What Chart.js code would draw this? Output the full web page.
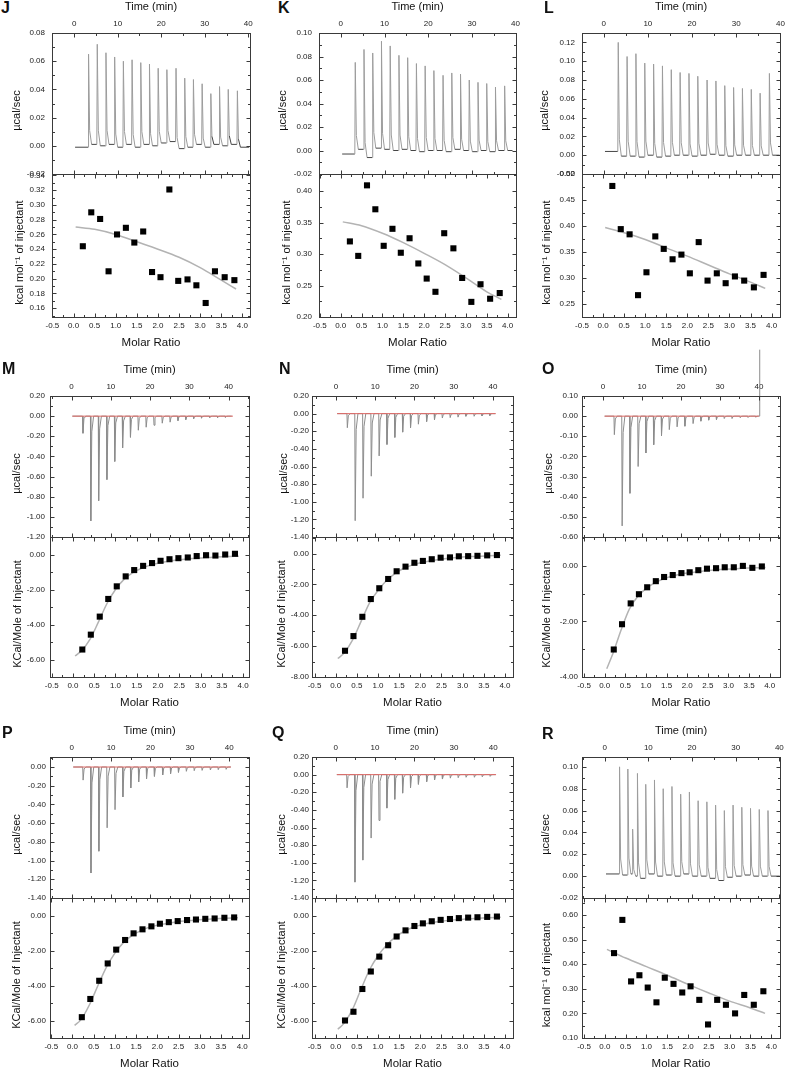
<!DOCTYPE html>
<html>
<head>
<meta charset="utf-8">
<script src="https://cdn.jsdelivr.net/npm/chart.js@4.4.1/dist/chart.umd.min.js"></script>
<style>
  html, body { margin: 0; padding: 0; background: #fff; }
  body { width: 786px; height: 1071px; position: relative; overflow: hidden; }
  canvas { position: absolute; }
  .tag { position: absolute; font: bold 16px/16px "Liberation Sans", Arial, sans-serif; color: #111; }
</style>
</head>
<body>
<script>
// ---------- values ----------
const timeTicks = [0, 10, 20, 30, 40];
const ratioTicks = [-0.5, 0, 0.5, 1, 1.5, 2, 2.5, 3, 3.5, 4];

// injection times (min)
const injA = [3.2, 5.2, 7.2, 9.2, 11.2, 13.2, 15.2, 17.2, 19.2, 21.2, 23.3, 25.3, 27.3, 29.3, 31.3, 33.3, 35.3, 37.4];
const injB = [2.8, 4.8, 6.8, 8.9, 10.9, 12.9, 14.9, 16.9, 18.9, 20.9, 23.0, 25.0, 27.0, 29.0, 31.0, 33.0, 35.1, 37.1, 39.1];
const injR = [3.3, 5.2, 6.3, 7.4, 9.3, 11.3, 13.3, 15.3, 17.3, 19.3, 21.3, 23.3, 25.3, 27.3, 29.3, 31.3, 33.3, 35.3, 37.3];

// molar ratio of the integrated points, and x of the fitted curves
const ratio = [0.22, 0.42, 0.63, 0.83, 1.03, 1.24, 1.44, 1.65, 1.86, 2.06, 2.27, 2.48, 2.70, 2.91, 3.13, 3.35, 3.58, 3.81];
const fitA = [0.05, 0.5, 1.0, 1.5, 2.0, 2.5, 3.0, 3.5, 3.85];
const fitB = [0.05, 0.2, 0.4, 0.6, 0.8, 1.0, 1.2, 1.4, 1.6, 1.8, 2.0, 2.4, 2.8, 3.2, 3.6, 3.9];

// J
const jPeak = [0.066, 0.071, 0.066, 0.062, 0.061, 0.060, 0.060, 0.057, 0.055, 0.052, 0.052, 0.050, 0.048, 0.043, 0.038, 0.041, 0.040, 0.038];
const jBase = [-0.001, 0.001, 0.000, 0.001, -0.001, 0.001, -0.001, 0.001, 0.000, 0.002, 0.003, -0.002, -0.001, 0.001, -0.001, 0.001, 0.000, 0.001, -0.001];
const jHeat = [0.244, 0.290, 0.281, 0.210, 0.260, 0.269, 0.249, 0.264, 0.209, 0.202, 0.321, 0.197, 0.199, 0.191, 0.167, 0.210, 0.202, 0.198];
const jFit = [0.270, 0.267, 0.260, 0.250, 0.240, 0.229, 0.215, 0.198, 0.186];
const jTopTicks = [-0.02, 0, 0.02, 0.04, 0.06, 0.08];
const jBotTicks = [0.16, 0.18, 0.20, 0.22, 0.24, 0.26, 0.28, 0.30, 0.32, 0.34];

// K
const kPeak = [0.078, 0.085, 0.089, 0.091, 0.088, 0.081, 0.078, 0.074, 0.073, 0.068, 0.064, 0.067, 0.064, 0.060, 0.059, 0.057, 0.055, 0.055];
const kBase = [-0.003, 0.001, -0.006, 0.002, 0.001, 0.000, 0.001, 0.000, -0.001, 0.000, 0.000, -0.001, 0.001, 0.000, -0.001, 0.000, -0.001, 0.000, 0.000];
const kHeat = [0.320, 0.297, 0.409, 0.371, 0.313, 0.340, 0.302, 0.325, 0.285, 0.261, 0.240, 0.333, 0.309, 0.262, 0.224, 0.252, 0.229, 0.238];
const kFit = [0.351, 0.345, 0.333, 0.318, 0.301, 0.283, 0.262, 0.240, 0.228];
const kTopTicks = [-0.02, 0, 0.02, 0.04, 0.06, 0.08, 0.10];
const kBotTicks = [0.20, 0.25, 0.30, 0.35, 0.40];

// L
const lPeak = [0.116, 0.106, 0.109, 0.100, 0.097, 0.097, 0.092, 0.088, 0.087, 0.085, 0.080, 0.078, 0.074, 0.073, 0.071, 0.070, 0.066, 0.087];
const lBase = [0.004, -0.001, -0.001, -0.002, 0.000, -0.002, -0.001, 0.000, 0.000, -0.001, 0.000, 0.001, 0.000, -0.001, 0.000, 0.000, 0.000, 0.000, 0.000];
const lHeat = [0.477, 0.394, 0.384, 0.267, 0.311, 0.380, 0.356, 0.336, 0.345, 0.309, 0.369, 0.295, 0.309, 0.290, 0.303, 0.295, 0.282, 0.306];
const lFit = [0.397, 0.387, 0.374, 0.358, 0.342, 0.325, 0.308, 0.292, 0.280];
const lTopTicks = [-0.02, 0, 0.02, 0.04, 0.06, 0.08, 0.10, 0.12];
const lBotTicks = [0.25, 0.30, 0.35, 0.40, 0.45, 0.50];

// M
const mPeak = [-0.17, -1.04, -0.84, -0.63, -0.45, -0.315, -0.21, -0.14, -0.11, -0.09, -0.07, -0.06, -0.045, -0.035, -0.025, -0.02, -0.015, -0.015, -0.012];
const mRed = [0.2, 41.1];
const mHeat = [-5.43, -4.58, -3.55, -2.54, -1.82, -1.25, -0.89, -0.65, -0.49, -0.36, -0.27, -0.21, -0.17, -0.09, -0.04, -0.06, 0.00, 0.04];
const mFit = [-5.8, -5.5, -4.85, -3.85, -2.8, -2.0, -1.42, -1.05, -0.8, -0.62, -0.5, -0.33, -0.23, -0.17, -0.12, -0.1];
const mTopTicks = [-1.2, -1.0, -0.8, -0.6, -0.4, -0.2, 0, 0.2];
const mBotTicks = [-6, -4, -2, 0];

// N
const nPeak = [-0.16, -1.215, -0.96, -0.71, -0.48, -0.35, -0.27, -0.21, -0.16, -0.12, -0.09, -0.07, -0.05, -0.045, -0.04, -0.03, -0.03, -0.027, -0.023];
const nRed = [0.3, 40.7];
const nHeat = [-6.3, -5.35, -4.1, -2.95, -2.25, -1.65, -1.15, -0.85, -0.6, -0.48, -0.37, -0.27, -0.25, -0.18, -0.17, -0.15, -0.12, -0.1];
const nFit = [-6.8, -6.45, -5.6, -4.4, -3.2, -2.4, -1.75, -1.3, -0.97, -0.75, -0.6, -0.4, -0.28, -0.2, -0.15, -0.12];
const nTopTicks = [-1.4, -1.2, -1.0, -0.8, -0.6, -0.4, -0.2, 0, 0.2];
const nBotTicks = [-8, -6, -4, -2, 0];

// O
const oPeak = [-0.092, -0.545, -0.383, -0.25, -0.183, -0.142, -0.097, -0.067, -0.053, -0.05, -0.037, -0.025, -0.02, -0.017, -0.012, -0.012, -0.008, -0.007, -0.005];
const oRed = [0.4, 40.0];
const oSpikeT = [40.2, 40.2];
const oSpikeV = [0, 0.33];
const oHeat = [-3.01, -2.10, -1.35, -1.02, -0.77, -0.55, -0.40, -0.33, -0.26, -0.23, -0.155, -0.10, -0.083, -0.05, -0.05, 0.00, -0.07, -0.02];
const oFit = [-3.7, -3.15, -2.3, -1.55, -1.1, -0.82, -0.62, -0.48, -0.38, -0.31, -0.26, -0.18, -0.13, -0.1, -0.07, -0.06];
const oTopTicks = [-0.6, -0.5, -0.4, -0.3, -0.2, -0.1, 0, 0.1];
const oBotTicks = [-4, -2, 0];

// P
const pPeak = [-0.14, -1.133, -0.90, -0.65, -0.456, -0.32, -0.224, -0.16, -0.128, -0.10, -0.085, -0.071, -0.057, -0.046, -0.039, -0.036, -0.032, -0.028, -0.025];
const pRed = [0.4, 40.4];
const pHeat = [-5.81, -4.77, -3.73, -2.74, -1.95, -1.40, -1.02, -0.79, -0.62, -0.47, -0.38, -0.32, -0.26, -0.23, -0.19, -0.17, -0.13, -0.11];
const pFit = [-6.28, -5.95, -5.1, -4.0, -2.95, -2.15, -1.55, -1.15, -0.88, -0.68, -0.55, -0.38, -0.28, -0.21, -0.16, -0.13];
const pTopTicks = [-1.4, -1.2, -1.0, -0.8, -0.6, -0.4, -0.2, 0];
const pBotTicks = [-6, -4, -2, 0];

// Q
const qPeak = [-0.15, -1.22, -0.97, -0.72, -0.52, -0.38, -0.28, -0.21, -0.15, -0.11, -0.08, -0.06, -0.05, -0.04, -0.035, -0.03, -0.03, -0.025, -0.02];
const qRed = [0.3, 40.7];
const qHeat = [-6.0, -5.5, -4.2, -3.2, -2.35, -1.7, -1.2, -0.85, -0.6, -0.45, -0.33, -0.25, -0.2, -0.15, -0.12, -0.1, -0.08, -0.06];
const qFit = [-6.5, -6.15, -5.35, -4.2, -3.1, -2.3, -1.7, -1.25, -0.93, -0.7, -0.55, -0.36, -0.25, -0.18, -0.13, -0.1];
const qTopTicks = [-1.4, -1.2, -1.0, -0.8, -0.6, -0.4, -0.2, 0, 0.2];
const qBotTicks = [-6, -4, -2, 0];

// R
const rPeak = [0.098, 0.097, 0.041, 0.094, 0.086, 0.086, 0.080, 0.081, 0.075, 0.075, 0.069, 0.068, 0.067, 0.064, 0.066, 0.063, 0.061, 0.061, 0.060];
const rBase = [0.002, 0.001, 0.002, 0.000, -0.002, 0.002, 0.000, 0.001, 0.000, 0.002, 0.000, 0.000, -0.002, -0.004, -0.001, 0.000, 0.001, 0.000, 0.000, 0.000];
const rHeat = [0.445, 0.580, 0.330, 0.355, 0.305, 0.245, 0.345, 0.320, 0.285, 0.310, 0.255, 0.155, 0.255, 0.235, 0.200, 0.275, 0.235, 0.290];
const rFit = [0.460, 0.425, 0.390, 0.355, 0.318, 0.283, 0.250, 0.222, 0.200];
const rTopTicks = [-0.02, 0, 0.02, 0.04, 0.06, 0.08, 0.10];
const rBotTicks = [0.10, 0.20, 0.30, 0.40, 0.50, 0.60];

const uCal = 'µcal/sec';
const kcalLow = 'kcal mol⁻¹ of injectant';
const kcalCap = 'KCal/Mole of Injectant';

// ---------- layout of the nine panels ----------
const row1 = {T: 33, M: 174, B: 317};
const row2 = {T: 396, M: 537, B: 677};
const row3 = {T: 757, M: 898, B: 1038};
const upTrace = {color: '#454545', light: '#9c9c9c', steep: 0.006};
const downTrace = {color: '#8c8c8c', light: '#8c8c8c', steep: 1};

const panels = [
  {tag: 'J', tagX: 1, tagY: 0, x: 0, L: 52, R: 250, ...row1, gap: 7, time: [-5.1, 40.4], mr: [-0.51, 4.18],
   topY: [-0.02, 0.08], topTicks: jTopTicks, botY: [0.148, 0.342], botTicks: jBotTicks, yt1: uCal, yt2: kcalLow, tx1: 17, tx2: 20,
   inj: injA, peak: jPeak, base: jBase, span: [0.2, 40.2], heat: jHeat, fitX: fitA, fitY: jFit, ...upTrace},
  {tag: 'K', tagX: 278, tagY: 0, x: 262, L: 319, R: 516, ...row1, gap: 7, time: [-5.0, 40.1], mr: [-0.52, 4.2],
   topY: [-0.02, 0.10], topTicks: kTopTicks, botY: [0.20, 0.427], botTicks: kBotTicks, yt1: uCal, yt2: kcalLow, tx1: 283, tx2: 287,
   inj: injA, peak: kPeak, base: kBase, span: [0.3, 39.3], heat: kHeat, fitX: fitA, fitY: kFit, ...upTrace},
  {tag: 'L', tagX: 544, tagY: 0, x: 524, L: 582, R: 780, ...row1, gap: 7, time: [-4.9, 39.9], mr: [-0.5, 4.2],
   topY: [-0.02, 0.13], topTicks: lTopTicks, botY: [0.225, 0.50], botTicks: lBotTicks, yt1: uCal, yt2: kcalLow, tx1: 545, tx2: 547,
   inj: injA, peak: lPeak, base: lBase, span: [0.3, 39.8], heat: lHeat, fitX: fitA, fitY: lFit, ...upTrace},
  {tag: 'M', tagX: 2, tagY: 361, x: 0, L: 50, R: 249, ...row2, gap: 5, time: [-5.5, 45.2], mr: [-0.54, 4.14],
   topY: [-1.2, 0.2], topTicks: mTopTicks, botY: [-7, 1], botTicks: mBotTicks, yt1: uCal, yt2: kcalCap, tx1: 17, tx2: 18,
   inj: injB, peak: mPeak, red: mRed, span: [0.2, 40.8], heat: mHeat, fitX: fitB, fitY: mFit, ...downTrace},
  {tag: 'N', tagX: 279, tagY: 361, x: 262, L: 312, R: 513, ...row2, gap: 3, time: [-6.1, 45.1], mr: [-0.56, 4.19],
   topY: [-1.4, 0.2], topTicks: nTopTicks, botY: [-8, 1.07], botTicks: nBotTicks, yt1: uCal, yt2: kcalCap, tx1: 284, tx2: 282,
   inj: injB, peak: nPeak, red: nRed, span: [0.3, 40.6], heat: nHeat, fitX: fitB, fitY: nFit, ...downTrace},
  {tag: 'O', tagX: 542, tagY: 361, x: 524, L: 582, R: 780, ...row2, gap: 4, time: [-5.4, 45.4], mr: [-0.55, 4.25],
   topY: [-0.6, 0.1], topTicks: oTopTicks, botY: [-4, 1.04], botTicks: oBotTicks, yt1: uCal, yt2: kcalCap, tx1: 549, tx2: 547,
   inj: injB, peak: oPeak, red: oRed, spike: [oSpikeT, oSpikeV], span: [0.4, 40.2], heat: oHeat, fitX: fitB, fitY: oFit, ...downTrace},
  {tag: 'P', tagX: 2, tagY: 725, x: 0, L: 50, R: 249, ...row3, gap: 4, time: [-5.5, 45.0], mr: [-0.53, 4.16],
   topY: [-1.4, 0.107], topTicks: pTopTicks, botY: [-7, 1], botTicks: pBotTicks, yt1: uCal, yt2: kcalCap, tx1: 17, tx2: 17,
   inj: injB, peak: pPeak, red: pRed, span: [0.4, 40.4], heat: pHeat, fitX: fitB, fitY: pFit, ...downTrace},
  {tag: 'Q', tagX: 272, tagY: 725, x: 262, L: 312, R: 513, ...row3, gap: 3, time: [-6.0, 45.0], mr: [-0.56, 4.19],
   topY: [-1.4, 0.2], topTicks: qTopTicks, botY: [-7, 1], botTicks: qBotTicks, yt1: uCal, yt2: kcalCap, tx1: 282, tx2: 282,
   inj: injB, peak: qPeak, red: qRed, span: [0.3, 40.6], heat: qHeat, fitX: fitB, fitY: qFit, ...downTrace},
  {tag: 'R', tagX: 542, tagY: 726, x: 524, L: 582, R: 780, ...row3, gap: 4, time: [-5.2, 40.15], mr: [-0.55, 4.21],
   topY: [-0.02, 0.109], topTicks: rTopTicks, botY: [0.10, 0.669], botTicks: rBotTicks, yt1: uCal, yt2: kcalLow, tx1: 546, tx2: 547,
   inj: injR, peak: rPeak, base: rBase, span: [0.3, 40.1], heat: rHeat, fitX: fitA, fitY: rFit, ...upTrace}
];

Chart.defaults.font.family = '"Liberation Sans", Arial, sans-serif';
Chart.defaults.color = '#222';

// raw power trace: baseline between injections, a sharp spike at each injection
function rawTrace(times, peaks, base, span) {
  const b = i => (base ? base[i] : 0);
  const pts = [{x: span[0], y: b(0)}];
  times.forEach((t, i) => {
    pts.push({x: t, y: b(i)}, {x: t + 0.1, y: b(i) + peaks[i]},
             {x: t + 0.35, y: b(i + 1) + peaks[i] * 0.15}, {x: t + 0.8, y: b(i + 1)});
  });
  pts.push({x: span[1], y: b(times.length)});
  return pts;
}

function minorsOf(vals, lo, hi) {
  const step = vals[1] - vals[0], out = [];
  for (let v = vals[0] - step / 2; v >= lo; v -= step) out.push(v);
  vals.forEach(v => { if (v + step / 2 <= hi + 1e-9) out.push(v + step / 2); });
  return out;
}

// frame, inward tick marks on all four sides and the rotated y title
const boxPlugin = {
  id: 'box',
  afterDatasetsDraw(chart, args, o) {
    const {ctx, chartArea: a} = chart;
    const sx = chart.scales.x, sy = chart.scales.y;
    const l = Math.round(a.left) + 0.5, r = Math.round(a.right) + 0.5;
    const t = Math.round(a.top) + 0.5, b = Math.round(a.bottom) + 0.5;
    ctx.save();
    ctx.strokeStyle = '#3a3a3a';
    ctx.lineWidth = 1;
    ctx.strokeRect(l, t, r - l, b - t);
    ctx.beginPath();
    const xs = o.xMajor.map(v => [v, 4]).concat(minorsOf(o.xMajor, sx.min, sx.max).map(v => [v, 2.5]));
    xs.forEach(([v, len]) => {
      if (v < sx.min || v > sx.max) return;
      const px = Math.round(sx.getPixelForValue(v)) + 0.5;
      ctx.moveTo(px, t); ctx.lineTo(px, t + len);
      ctx.moveTo(px, b); ctx.lineTo(px, b - len);
    });
    const ys = o.yMajor.map(v => [v, 4]).concat(minorsOf(o.yMajor, sy.min, sy.max).map(v => [v, 2.5]));
    ys.forEach(([v, len]) => {
      if (v < sy.min - 1e-9 || v > sy.max + 1e-9) return;
      const py = Math.round(sy.getPixelForValue(v)) + 0.5;
      ctx.moveTo(l, py); ctx.lineTo(l + len, py);
      ctx.moveTo(r, py); ctx.lineTo(r - len, py);
    });
    ctx.stroke();
    ctx.fillStyle = '#111';
    ctx.font = '11px "Liberation Sans", Arial, sans-serif';
    ctx.textAlign = 'center';
    ctx.textBaseline = 'middle';
    ctx.translate(o.titleX, (a.top + a.bottom) / 2 + 7);
    ctx.rotate(-Math.PI / 2);
    ctx.fillText(o.title, 0, 0);
    ctx.restore();
  }
};

function canvasAt(left, top, w, h) {
  const c = document.createElement('canvas');
  c.width = w; c.height = h;
  c.style.left = left + 'px'; c.style.top = top + 'px';
  c.style.width = w + 'px'; c.style.height = h + 'px';
  document.body.appendChild(c);
  return c;
}

function xAxis(pos, range, ticks, digits, title, size, titlePad) {
  return {
    type: 'linear', position: pos, min: range[0], max: range[1],
    afterBuildTicks: s => { s.ticks = ticks.map(v => ({value: v})); },
    afterFit: s => { s.height = size; },
    grid: {display: false, drawTicks: false}, border: {display: false},
    ticks: {autoSkip: false, maxRotation: 0, minRotation: 0, padding: 4, font: {size: 8}, color: '#222',
            callback: v => v.toFixed(digits)},
    title: {display: true, text: title, color: '#111', font: {size: pos === 'top' ? 11 : 11.5},
            padding: pos === 'top' ? {top: titlePad, bottom: 0} : {top: 0, bottom: titlePad}}
  };
}

function yAxis(range, ticks, width, gap) {
  return {
    type: 'linear', position: 'left', min: range[0], max: range[1],
    afterBuildTicks: s => { s.ticks = ticks.map(v => ({value: v})); },
    afterFit: s => { s.width = width; },
    grid: {display: false, drawTicks: false}, border: {display: false},
    ticks: {autoSkip: false, padding: gap, font: {size: 8}, color: '#222', callback: v => v.toFixed(2)}
  };
}

const HEAD = 48, FOOT = 40, EDGE = 14, RIGHT = 16;

panels.forEach(p => {
  const tag = document.createElement('div');
  tag.className = 'tag';
  tag.textContent = p.tag;
  tag.style.left = p.tagX + 'px';
  tag.style.top = p.tagY + 'px';
  document.body.appendChild(tag);

  const w = p.R - p.x + RIGHT;

  // raw heat-flow trace (top)
  const ds = [];
  if (p.red) {
    ds.push({data: p.red.map(t => ({x: t, y: 0})), showLine: true, borderColor: '#e06a66', borderWidth: 1, pointRadius: 0});
  }
  if (p.spike) {
    ds.push({data: p.spike[0].map((t, i) => ({x: t, y: p.spike[1][i]})), showLine: true, borderColor: '#8c8c8c',
             borderWidth: 1, pointRadius: 0, clip: false});
  }
  ds.push({data: rawTrace(p.inj, p.peak, p.base, p.span), showLine: true, borderColor: p.color, borderWidth: 1,
           pointRadius: 0,
           segment: {borderColor: c => (Math.abs(c.p1.parsed.y - c.p0.parsed.y) > p.steep ? p.light : p.color)}});

  new Chart(canvasAt(p.x, p.T - HEAD, w, p.M - p.T + HEAD + EDGE), {
    type: 'scatter',
    data: {datasets: ds},
    options: {
      animation: false, responsive: false, events: [],
      layout: {padding: {left: 0, top: 0, right: RIGHT, bottom: EDGE}},
      plugins: {legend: {display: false}, tooltip: {enabled: false},
                box: {xMajor: timeTicks, yMajor: p.topTicks, title: p.yt1, titleX: p.tx1 - p.x}},
      scales: {
        x: xAxis('top', p.time, timeTicks, 0, 'Time (min)', HEAD, HEAD - 26 - 6.6),
        y: yAxis(p.topY, p.topTicks, p.L - p.x, p.gap)
      }
    },
    plugins: [boxPlugin]
  });

  // integrated heats and fitted curve (bottom)
  new Chart(canvasAt(p.x, p.M - EDGE, w, p.B - p.M + EDGE + FOOT), {
    type: 'scatter',
    data: {datasets: [
      {data: p.heat.map((v, i) => ({x: ratio[i], y: v})), pointStyle: 'rect', pointRadius: 4.3,
       backgroundColor: '#000', borderWidth: 0},
      {data: p.fitX.map((v, i) => ({x: v, y: p.fitY[i]})), showLine: true, pointRadius: 0,
       borderColor: '#b3b3b3', borderWidth: 1.5, cubicInterpolationMode: 'monotone'}
    ]},
    options: {
      animation: false, responsive: false, events: [],
      layout: {padding: {left: 0, top: EDGE, right: RIGHT, bottom: 0}},
      plugins: {legend: {display: false}, tooltip: {enabled: false},
                box: {xMajor: ratioTicks, yMajor: p.botTicks, title: p.yt2, titleX: p.tx2 - p.x}},
      scales: {
        x: xAxis('bottom', p.mr, ratioTicks, 1, 'Molar Ratio', FOOT, FOOT - 26 - 6.9),
        y: yAxis(p.botY, p.botTicks, p.L - p.x, p.gap)
      }
    },
    plugins: [boxPlugin]
  });
});
</script>
</body>
</html>
